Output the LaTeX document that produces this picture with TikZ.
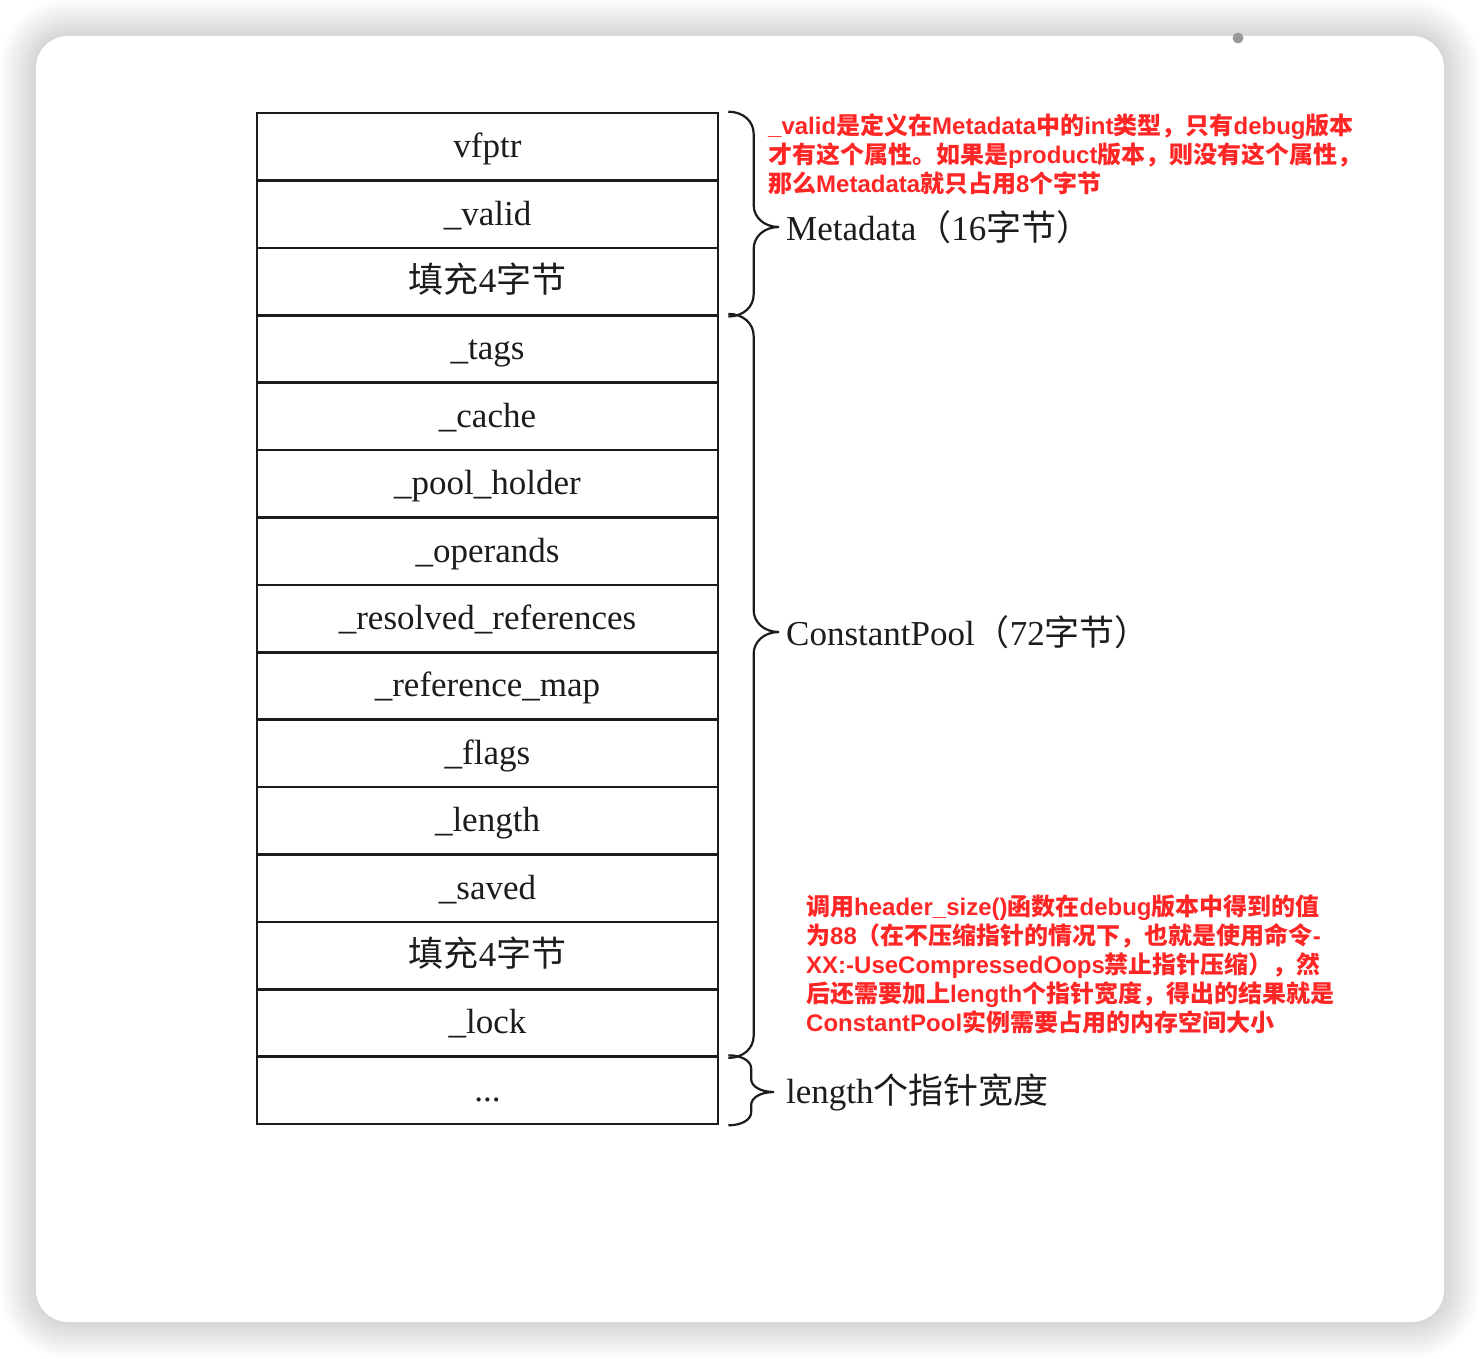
\documentclass[tikz,border=0pt]{standalone}
\usepackage{fontspec}
\setmainfont{Liberation Serif}
\newfontfamily\cjk{Noto Sans CJK SC}
\newfontfamily\notefont{Liberation Sans}
\usepackage{xcolor}
\usepackage{tikz}
\usetikzlibrary{calc}
\definecolor{notered}{RGB}{255,38,38}
\definecolor{ink}{RGB}{28,28,28}
\newcommand{\zh}[1]{{\cjk #1}}
% curly brace from #2 (top) to #3 (bottom), tip at #4, curl length #1
\newcommand{\bracer}[4][22]{%
  \draw[brc] let \p1=(#2), \p2=(#3), \p3=(#4), \p4=($(\p1)!0.5!(\p3)$) in
    (\p1) .. controls (\x1+0.6*\x4-0.6*\x1,\y1) and (\x4,\y1-0.45*#1) .. (\x4,\y1-#1)
    -- (\x4,\y3+#1)
    .. controls (\x4,\y3+0.45*#1) and (0.6*\x4+0.4*\x3,\y3) .. (\p3)
    .. controls (0.6*\x4+0.4*\x3,\y3) and (\x4,\y3-0.45*#1) .. (\x4,\y3-#1)
    -- (\x4,\y2+#1)
    .. controls (\x4,\y2+0.45*#1) and (\x1+0.6*\x4-0.6*\x1,\y2) .. (\p2);
}
\tikzset{
  cell/.style={draw=ink, line width=2.6pt, minimum width=461pt, minimum height=67.4pt, inner sep=0pt, text height=28pt, text depth=6pt, text=ink, font=\fontsize{35}{40}\selectfont},
  side/.style={anchor=west, inner sep=0pt, text=ink, font=\fontsize{35}{40}\selectfont},
  note/.style={anchor=west, inner sep=0pt, align=left, text=notered, font=\notefont\bfseries\fontsize{24}{29}\selectfont},
  brc/.style={draw=ink, line width=2.2pt},
}

\begin{document}
\begin{tikzpicture}[x=1pt,y=-1pt]
  \useasboundingbox (0,0) rectangle (1480,1358);
  \fill[white] (0,0) rectangle (1480,1358);

  % card and its shadow
  \foreach \s in {1,...,20}
    \fill[black, opacity=0.007, rounded corners={32pt+\s*1.8pt}] (36-\s*1.8,36-\s*1.8) rectangle (1444+\s*1.8,1322+\s*1.8);
  \fill[white, rounded corners=32pt] (36,36) rectangle (1444,1322);
  \fill[gray!80] (1238,38) circle (5.5pt);

  % memory layout
  \node[cell] (r1) at (487.5,146.7) {vfptr};
  \node[cell] (r2) at (487.5,214.1) {\_valid};
  \node[cell] (r3) at (487.5,281.5) {\zh{填充}4\zh{字节}};
  \node[cell] (r4) at (487.5,348.9) {\_tags};
  \node[cell] (r5) at (487.5,416.3) {\_cache};
  \node[cell] (r6) at (487.5,483.7) {\_pool\_holder};
  \node[cell] (r7) at (487.5,551.1) {\_operands};
  \node[cell] (r8) at (487.5,618.5) {\_resolved\_references};
  \node[cell] (r9) at (487.5,685.9) {\_reference\_map};
  \node[cell] (r10) at (487.5,753.3) {\_flags};
  \node[cell] (r11) at (487.5,820.7) {\_length};
  \node[cell] (r12) at (487.5,888.1) {\_saved};
  \node[cell] (r13) at (487.5,955.5) {\zh{填充}4\zh{字节}};
  \node[cell] (r14) at (487.5,1022.9) {\_lock};
  \node[cell] (r15) at (487.5,1090.3) {...};

  \node[side] (lbmeta) at (786,227) {Metadata\zh{（}16\zh{字节）}};
  \node[side] (lbpool) at (786,632) {ConstantPool\zh{（}72\zh{字节）}};
  \node[side] (lblen) at (786,1092) {length\zh{个指针宽度}};

  \bracer{[xshift=9pt]r1.north east}{[xshift=9pt]r3.south east}{[xshift=-7pt]lbmeta.west}
  \bracer{[xshift=9pt]r4.north east}{[xshift=9pt]r14.south east}{[xshift=-7pt]lbpool.west}
  \bracer[13]{[xshift=9pt]r15.north east}{[xshift=9pt]r15.south east}{[xshift=-12pt]lblen.west}

  % notes
  \node[note] (note1) at (768,154) {\_valid\zh{是定义在}Metadata\zh{中的}int\zh{类型，只有}debug\zh{版本}\\
    \zh{才有这个属性。如果是}product\zh{版本，则没有这个属性，}\\
    \zh{那么}Metadata\zh{就只占用}8\zh{个字节}};
  \node[note] (note2) at (806,964) {\zh{调用}header\_size()\zh{函数在}debug\zh{版本中得到的值}\\
    \zh{为}88\zh{（在不压缩指针的情况下，也就是使用命令}-\\
    XX:-UseCompressedOops\zh{禁止指针压缩），然}\\
    \zh{后还需要加上}length\zh{个指针宽度，得出的结果就是}\\
    ConstantPool\zh{实例需要占用的内存空间大小}};
\end{tikzpicture}
\end{document}
